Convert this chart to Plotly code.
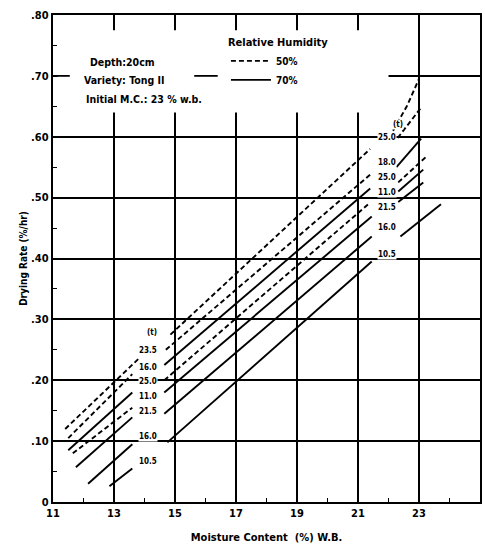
import plotly.graph_objects as go

# ---- data (moisture content %, drying rate %/hr) ----
# 50% RH = dashed, 70% RH = solid
left_x = {
    "L1": [11.4, 13.8], "L2": [11.5, 13.6], "L3": [11.5, 13.6], "L4": [11.65, 13.6],
    "L5": [11.75, 13.6], "L6": [12.15, 13.6], "L7": [12.85, 13.6],
}
left_y = {
    "L1": [0.120, 0.235], "L2": [0.105, 0.210], "L3": [0.085, 0.180], "L4": [0.080, 0.155],
    "L5": [0.057, 0.139], "L6": [0.030, 0.095], "L7": [0.026, 0.055],
}
mid_x = {
    "A": [14.85, 21.4], "B": [14.7, 21.45], "C": [14.65, 21.4], "D": [14.65, 21.4],
    "E": [14.65, 21.45], "F": [14.65, 21.45], "G": [14.75, 21.45],
}
mid_y = {
    "A": [0.275, 0.580], "B": [0.250, 0.540], "C": [0.225, 0.515], "D": [0.200, 0.492],
    "E": [0.180, 0.469], "F": [0.145, 0.436], "G": [0.098, 0.395],
}
right_x = {
    "R1": [22.15, 22.6, 23.0], "R2": [22.3, 23.07], "R3": [22.26, 23.07], "R4": [22.32, 23.23],
    "R5": [22.32, 23.14], "R6": [22.32, 23.14], "R7": [22.39, 23.72],
}
right_y = {
    "R1": [0.610, 0.650, 0.695], "R2": [0.598, 0.648], "R3": [0.550, 0.597], "R4": [0.525, 0.567],
    "R5": [0.510, 0.546], "R6": [0.493, 0.525], "R7": [0.436, 0.489],
}
dashed_keys = {"L1", "L2", "L4", "A", "B", "D", "R1", "R2", "R4"}

left_labels = ["(t)", "23.5", "16.0", "25.0", "11.0", "21.5", "16.0", "10.5"]
left_label_y = [0.279, 0.249, 0.221, 0.198, 0.174, 0.149, 0.108, 0.066]
right_labels = ["(t)", "25.0", "18.0", "25.0", "11.0", "21.5", "16.0", "10.5"]
right_label_y = [0.620, 0.598, 0.557, 0.533, 0.508, 0.484, 0.451, 0.407]

x_ticks = [11, 13, 15, 17, 19, 21, 23, 25]
y_ticks = [0, 0.1, 0.2, 0.3, 0.4, 0.5, 0.6, 0.7, 0.8]
y_tick_text = ["0", ".10", ".20", ".30", ".40", ".50", ".60", ".70", ".80"]

FONT = "DejaVu Sans Condensed, DejaVu Sans"
LW = 1.9
DASH = "5px,3px"

fig = go.Figure()

# legend entries
fig.add_trace(go.Scatter(x=[None], y=[None], mode="lines", name="<b>50%</b>",
                         line=dict(color="black", width=LW, dash=DASH)))
fig.add_trace(go.Scatter(x=[None], y=[None], mode="lines", name="<b>70%</b>",
                         line=dict(color="black", width=LW)))

for xs, ys in ((left_x, left_y), (mid_x, mid_y), (right_x, right_y)):
    for k in xs:
        fig.add_trace(go.Scatter(
            x=xs[k], y=ys[k], mode="lines", showlegend=False, hoverinfo="skip",
            line=dict(color="black", width=LW,
                      dash=DASH if k in dashed_keys else "solid")))

# white box that interrupts the grid behind the notes
fig.add_shape(type="rect", x0=11.15, x1=22.0, y0=0.64, y1=0.775,
              fillcolor="white", line=dict(width=0), layer="between")
fig.add_shape(type="line", x0=15.63, x1=16.4, y0=0.70, y1=0.70,
              line=dict(color="black", width=1.8), layer="between")
fig.add_shape(type="line", x0=11.0, x1=11.55, y0=0.70, y1=0.70,
              line=dict(color="black", width=1.8), layer="between")

notes = [("<b>Depth:20cm</b>", 12.15, 0.722),
         ("<b>Variety: Tong II</b>", 11.95, 0.693),
         ("<b>Initial M.C.: 23 % w.b.</b>", 12.0, 0.662)]
for t, x, y in notes:
    fig.add_annotation(x=x, y=y, text=t, showarrow=False, xanchor="left",
                       font=dict(family=FONT, size=10.5, color="black"))

for t, y in zip(left_labels, left_label_y):
    fig.add_annotation(x=14.1 if t != "(t)" else 14.25, y=y, text="<b>" + t + "</b>",
                       showarrow=False, bgcolor="white", borderpad=0,
                       font=dict(family=FONT, size=8, color="black"))
for t, y in zip(right_labels, right_label_y):
    fig.add_annotation(x=21.95 if t != "(t)" else 22.3, y=y, text="<b>" + t + "</b>",
                       showarrow=False, bgcolor="white", borderpad=0,
                       font=dict(family=FONT, size=8, color="black"))

axis_common = dict(showgrid=True, gridcolor="black", gridwidth=1.8,
                   showline=True, linecolor="black", linewidth=2.4, mirror=True,
                   zeroline=False, ticks="inside", ticklen=4, tickcolor="black",
                   tickfont=dict(family=FONT, size=11, color="black"))

fig.update_xaxes(range=[11, 25], tickvals=x_ticks,
                 ticktext=["<b>%d</b>" % v for v in x_ticks],
                 title=dict(text="<b>Moisture Content  (%) W.B.</b>",
                            font=dict(family=FONT, size=11, color="black"), standoff=14),
                 minor=dict(dtick=1, ticks="inside", ticklen=4, tickcolor="black", showgrid=False),
                 **axis_common)
fig.update_yaxes(range=[0, 0.8], tickvals=y_ticks,
                 ticktext=["<b>%s</b>" % t for t in y_tick_text],
                 title=dict(text="<b>Drying Rate (%/hr)</b>",
                            font=dict(family=FONT, size=10, color="black"), standoff=2),
                 minor=dict(dtick=0.05, ticks="inside", ticklen=4, tickcolor="black", showgrid=False),
                 **axis_common)

fig.update_layout(
    width=485, height=545,
    margin=dict(l=53, r=3, t=15, b=42),
    plot_bgcolor="white", paper_bgcolor="white",
    showlegend=True,
    legend=dict(x=0.405, y=0.965, xanchor="left", yanchor="top",
                bgcolor="rgba(0,0,0,0)", tracegroupgap=0, itemwidth=40,
                title=dict(text="<b>Relative Humidity</b>", side="top",
                           font=dict(family=FONT, size=11, color="black")),
                font=dict(family=FONT, size=10, color="black")),
    font=dict(family=FONT, color="black"),
)

fig.write_html("out.html")
